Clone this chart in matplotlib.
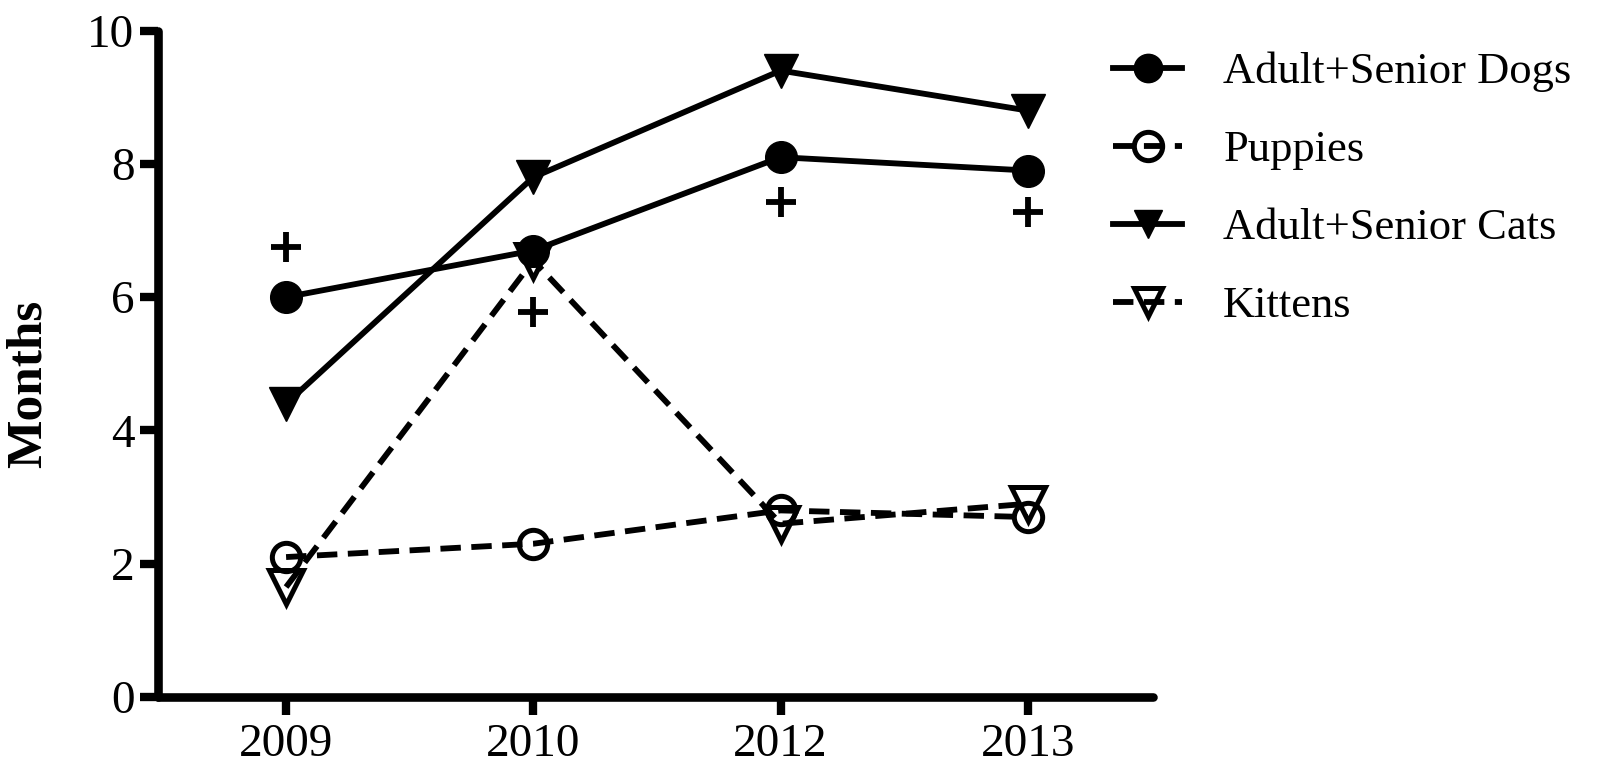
import matplotlib
matplotlib.use("Agg")
import matplotlib.pyplot as plt

years = ["2009", "2010", "2012", "2013"]
dogs = [6.0, 6.7, 8.1, 7.9]
puppies = [2.1, 2.3, 2.8, 2.7]
cats = [4.4, 7.8, 9.4, 8.8]
kittens = [1.65, 6.55, 2.6, 2.9]
sig_y = [6.75, 5.78, 7.43, 7.28]
series_names = ["Adult+Senior Dogs", "Puppies", "Adult+Senior Cats", "Kittens"]
y_ticks = [0, 2, 4, 6, 8, 10]

plt.rcParams['font.family'] = ['Liberation Serif', 'DejaVu Serif']

W, H = 1600, 776
fig = plt.figure(figsize=(W / 100, H / 100), dpi=100)
ax_w = 1153 - 158
ax = fig.add_axes([158 / W, 1 - 697 / H, ax_w / W, (697 - 30.6) / H])

x = list(range(len(years)))
lw = 4.2
ms = 24
mew = 3.6
dash = (3.5, 1.8)

ax.plot(x, dogs, color='black', lw=lw, marker='o', ms=ms * 0.95, mfc='black', mec='black',
        label=series_names[0], zorder=3)
l_p, = ax.plot(x, puppies, color='black', lw=lw, ls='--', marker='o', ms=ms * 0.85, mfc='none',
               mec='black', mew=mew, label=series_names[1], zorder=3)
l_p.set_dashes(dash)
ax.plot(x, cats, color='black', lw=lw, marker='v', ms=ms, mfc='black', mec='black',
        label=series_names[2], zorder=3)
l_k, = ax.plot(x, kittens, color='black', lw=lw, ls='--', marker='v', ms=ms, mfc='none',
               mec='black', mew=mew, label=series_names[3], zorder=3)
l_k.set_dashes(dash)

ax.plot(x, sig_y, ls='none', marker='+', ms=21, mew=4.2, color='black', zorder=4)

ax.set_xlim(-0.518, 3.506)
ax.set_ylim(0, 10)
ax.set_xticks(x)
ax.set_xticklabels(years)
ax.set_yticks(y_ticks)
ax.set_yticklabels([str(v) for v in y_ticks])

for side in ['top', 'right']:
    ax.spines[side].set_visible(False)
for side in ['left', 'bottom']:
    ax.spines[side].set_linewidth(6.2)
    ax.spines[side].set_capstyle('round')

ax.tick_params(axis='both', which='major', direction='out', length=13, width=6,
               labelsize=34, color='black')
ax.tick_params(axis='y', pad=4)
ax.tick_params(axis='x', pad=6)

ax.set_ylabel("Months", fontsize=37, fontweight='bold')
ax.yaxis.set_label_coords((52 - 158) / ax_w, 0.47)

handles, labels = ax.get_legend_handles_labels()
leg = fig.legend(handles, labels, loc='upper left', bbox_to_anchor=(1113 / W, 1 - 52 / H),
                 frameon=False, fontsize=32, handlelength=1.56, handletextpad=0.92,
                 labelspacing=0.85, borderpad=0, borderaxespad=0)
for lh in leg.get_lines():
    lh.set_markersize(ms * 0.85)

fig.savefig("out.png", dpi=100)
